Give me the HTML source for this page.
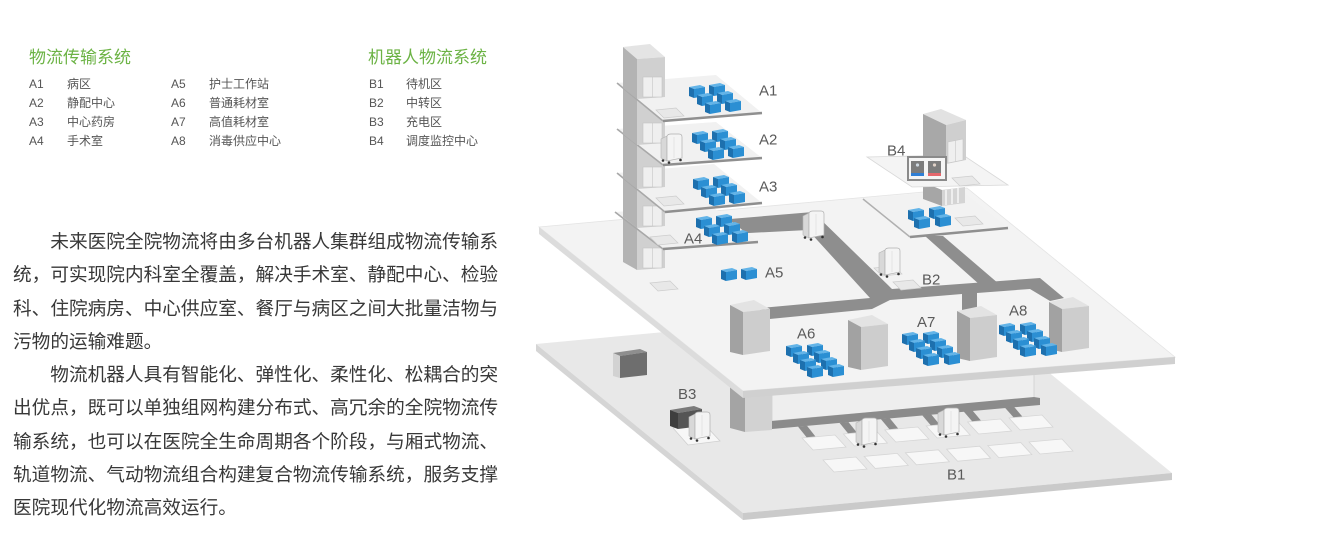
<!DOCTYPE html>
<html><head><meta charset="utf-8"><style>
html,body{margin:0;padding:0;background:#fff}
body{width:1322px;height:546px;position:relative;overflow:hidden}
svg{position:absolute;left:0;top:0}
.t{position:absolute;white-space:nowrap;font-family:"Liberation Sans","Noto Sans CJK SC",sans-serif}
.ttl{font-size:17px;line-height:20px;color:#6cb345}
.lg{font-size:12px;line-height:19px;color:#555}
.p{position:absolute;left:13px;top:225px;font-family:"Liberation Sans","Noto Sans CJK SC",sans-serif;font-size:18.67px;line-height:33.3px;color:#383838;white-space:nowrap}
.p div{height:33.3px}
.ind{padding-left:37.3px}
</style></head><body>
<svg width="1322" height="546" viewBox="0 0 1322 546" xmlns="http://www.w3.org/2000/svg">
<defs>
<g id="cb">
<polygon points="0,2 11,0 16,2 5,4" fill="#63b4e8"/>
<polygon points="0,2 5,4 5,13 0,11" fill="#1d70ae"/>
<polygon points="5,4 16,2 16,11 5,13" fill="#2b8fd3"/>
</g>
<g id="rob">
<polygon points="1,5 7,2 7,27 1,24" fill="#d8d8d8" stroke="#b5b5b5" stroke-width="0.6"/>
<path d="M7,2 Q8,0 11,0 L19,0 Q22,0 22,3 L22,24 L7,27 Z" fill="#f4f4f4" stroke="#b0b0b0" stroke-width="0.7"/>
<line x1="14" y1="3" x2="14" y2="24" stroke="#dcdcdc" stroke-width="0.7"/>
<circle cx="3" cy="26.5" r="1.3" fill="#333"/>
<circle cx="9" cy="28.5" r="1.3" fill="#333"/>
<circle cx="20.5" cy="26" r="1.3" fill="#333"/>
</g>
<g id="bld">
<polygon points="0,5 24,0 40,9 13,12" fill="#e3e3e3"/>
<polygon points="0,5 13,12 13,55 0,52" fill="#a2a2a2"/>
<polygon points="13,12 40,9 40,51 13,55" fill="#cdcdcd"/>
</g>
<g id="door">
<rect x="0" y="0" width="19" height="20" fill="#efefef" stroke="#c4c4c4" stroke-width="0.6"/>
<line x1="9.5" y1="0" x2="9.5" y2="20" stroke="#c4c4c4" stroke-width="0.6"/>
</g>
</defs>

<!-- Lower platform -->
<polygon points="536,344 965,304 1172,473 743,513" fill="#e8e8e8"/>
<polygon points="536,344 743,513 743,520 536,351" fill="#d5d5d5"/>
<polygon points="743,513 1172,473 1172,480 743,520" fill="#cacaca"/>

<!-- dark box -->
<polygon points="613,353 640,349 647,352 620,356" fill="#8e8e8e"/>
<polygon points="613,353 620,356 620,378 613,376" fill="#d2d2d2"/>
<polygon points="620,356 647,352 647,375 620,378" fill="#6e6e6e"/>

<!-- B3 charger -->
<polygon points="673,428 705,425 720,441 688,445" fill="#f7f7f7" stroke="#cfcfcf" stroke-width="0.8"/>
<polygon points="670,410 694,406 702,409 678,413" fill="#7a7a7a"/>
<polygon points="670,410 678,413 678,429 670,426" fill="#3e3e3e"/>
<polygon points="678,413 702,409 702,426 678,429" fill="#555"/>
<use href="#rob" x="688" y="412"/>

<!-- under-structure -->
<polygon points="772,394 1034,374 1034,398 772,421" fill="#eeeeee" stroke="#d0d0d0" stroke-width="0.8"/>
<polygon points="772,421 1034,397 1040,398 1040,405 772,429" fill="#8b8b8b"/>
<g fill="#8b8b8b">
<polygon points="798,426.6 807,425.8 817,438.5 808,439"/>
<polygon points="839.4,422.8 848.4,422 858.4,434.5 849.4,435"/>
<polygon points="880.8,419 889.8,418.2 899.8,430.5 890.8,431"/>
<polygon points="922.2,415.3 931.2,414.4 941.2,426.5 932.2,427"/>
<polygon points="963.6,411.4 972.6,410.6 982.6,422.5 973.6,423"/>
<polygon points="1005,407.7 1014,406.8 1024,418.5 1015,419"/>
</g>
<polygon points="730,378 745,384 745,432 730,428" fill="#a4a4a4"/>
<polygon points="745,384 772,381 772,430 745,432" fill="#d2d2d2"/>

<!-- tiles -->
<g fill="#f7f7f7" stroke="#d6d6d6" stroke-width="0.8">
<polygon points="802,438 835,435 846,447 813,450"/>
<polygon points="843.4,434 876.4,431 887.4,443 854.4,446"/>
<polygon points="884.8,430 917.8,427 928.8,439 895.8,442"/>
<polygon points="926.2,426 959.2,423 970.2,435 937.2,438"/>
<polygon points="967.6,422 1000.6,419 1011.6,431 978.6,434"/>
<polygon points="1009,418 1042,415 1053,427 1020,430"/>
<polygon points="823,460 856,457 867,469 834,472"/>
<polygon points="864.2,456.4 897.2,453.4 908.2,465.4 875.2,468.4"/>
<polygon points="905.4,452.8 938.4,449.8 949.4,461.8 916.4,464.8"/>
<polygon points="946.6,449.2 979.6,446.2 990.6,458.2 957.6,461.2"/>
<polygon points="987.8,445.6 1020.8,442.6 1031.8,454.6 998.8,457.6"/>
<polygon points="1029,442 1062,439 1073,451 1040,454"/>
</g>
<use href="#rob" x="855" y="418"/>
<use href="#rob" x="937" y="408"/>

<!-- Upper platform -->
<polygon points="539,227 967,188 1175,357 743,391" fill="#f3f3f3" stroke="#e4e4e4" stroke-width="0.8"/>
<polygon points="539,227 743,391 743,398 539,234" fill="#dcdcdc"/>
<polygon points="743,391 1175,357 1175,364 743,398" fill="#d0d0d0"/>

<!-- roads -->
<polygon points="730,219 813,212 892,289 1040,278 1064,298 1050,301 1030,289 977,293 977,312 962,312 962,294 890,300 872,309 760,320 760,308 870,298 808,230 730,234" fill="#8e8e8e"/>
<polygon points="925,236 943,236 999,284 980,285" fill="#8e8e8e"/>

<!-- pads on UP -->
<g fill="#e8e8e8" stroke="#cdcdcd" stroke-width="0.7">
<polygon points="650,283 670,281 678,289 658,291"/>
<polygon points="893,282 913,280 921,288 901,290"/>
<polygon points="874,268 894,266 902,274 882,276"/>
</g>

<!-- buildings -->
<use href="#bld" x="730" y="300"/>
<use href="#bld" x="848" y="315"/>
<use href="#bld" x="957" y="306"/>
<use href="#bld" x="1049" y="297"/>

<!-- clusters -->
<use href="#cb" x="721" y="268"/><use href="#cb" x="741" y="267"/>
<g>
<use href="#cb" x="807" y="343"/><use href="#cb" x="786" y="344"/>
<use href="#cb" x="814" y="350"/><use href="#cb" x="793" y="351"/>
<use href="#cb" x="821" y="357"/><use href="#cb" x="800" y="358"/>
<use href="#cb" x="828" y="364"/><use href="#cb" x="807" y="365"/>
</g>
<g>
<use href="#cb" x="923" y="331"/><use href="#cb" x="902" y="332"/>
<use href="#cb" x="930" y="338"/><use href="#cb" x="909" y="339"/>
<use href="#cb" x="937" y="345"/><use href="#cb" x="916" y="346"/>
<use href="#cb" x="944" y="352"/><use href="#cb" x="923" y="353"/>
</g>
<g>
<use href="#cb" x="1020" y="322"/><use href="#cb" x="999" y="323"/>
<use href="#cb" x="1027" y="329"/><use href="#cb" x="1006" y="330"/>
<use href="#cb" x="1034" y="336"/><use href="#cb" x="1013" y="337"/>
<use href="#cb" x="1041" y="343"/><use href="#cb" x="1020" y="344"/>
</g>
<use href="#rob" x="802" y="211"/>
<use href="#rob" x="878" y="248"/>

<!-- B4 structure -->
<polygon points="863,199 961,190 1008,228 910,237" fill="#f2f2f2"/>
<line x1="863" y1="199" x2="910" y2="237" stroke="#b0b0b0" stroke-width="1.5"/>
<line x1="910" y1="237" x2="1008" y2="228" stroke="#8f8f8f" stroke-width="2.4"/>
<polygon points="955,218 975,216 983,224 963,226" fill="#e8e8e8" stroke="#cdcdcd" stroke-width="0.7"/>
<polygon points="923,182 942,190 942,206 923,199" fill="#a6a6a6"/>
<polygon points="942,190 965,187 965,203 942,206" fill="#d4d4d4"/>
<g stroke="#f4f4f4" stroke-width="1.6"><line x1="946" y1="190" x2="946" y2="205"/><line x1="952" y1="189" x2="952" y2="204"/><line x1="958" y1="188" x2="958" y2="203"/></g>
<use href="#cb" x="929" y="206"/><use href="#cb" x="908" y="208"/>
<use href="#cb" x="935" y="214"/><use href="#cb" x="914" y="216"/>
<polygon points="867,157 963,155 1008,185 912,187" fill="#f4f4f4" stroke="#d8d8d8" stroke-width="0.8"/>
<polygon points="952,178 972,176 980,184 960,186" fill="#e8e8e8" stroke="#cdcdcd" stroke-width="0.7"/>
<polygon points="923,114 941,109 966,120 946,125" fill="#e2e2e2"/>
<polygon points="923,114 946,125 946,164 923,160" fill="#a8a8a8"/>
<polygon points="946,125 966,120 966,160 946,164" fill="#cfcfcf"/>
<polygon points="948,142 963,139 963,160 948,163" fill="#efefef" stroke="#c6c6c6" stroke-width="0.6"/>
<line x1="955.5" y1="140.5" x2="955.5" y2="161.5" stroke="#c6c6c6" stroke-width="0.6"/>
<rect x="908" y="157" width="38" height="23" fill="#f5f5f5" stroke="#8a8a8a" stroke-width="2"/>
<rect x="911" y="161" width="13" height="15" fill="#7c7c7c"/>
<rect x="928" y="161" width="13" height="15" fill="#7c7c7c"/>
<rect x="911" y="173" width="13" height="3" fill="#2f7fd6"/>
<rect x="928" y="173" width="13" height="3" fill="#e5676c"/>
<circle cx="917.5" cy="165" r="1.6" fill="#cfd8e0"/>
<circle cx="934.5" cy="165" r="1.6" fill="#e0d2c8"/>

<!-- Tower + floors A4..A1 -->
<!-- S4 -->
<polygon points="623,217 637,228 637,270 623,262" fill="#b3b3b3"/>
<polygon points="637,228 665,226 665,268 637,270" fill="#d0d0d0"/>
<use href="#door" x="643" y="248"/>
<!-- slab A4 -->
<polygon points="615,212 710,205 758,242 663,249" fill="#f1f1f1"/>
<line x1="615" y1="212" x2="663" y2="249" stroke="#a8a8a8" stroke-width="1.6"/>
<line x1="663" y1="249" x2="758" y2="242" stroke="#8f8f8f" stroke-width="2.4"/>
<polygon points="650,237 670,235 678,243 658,245" fill="#e8e8e8" stroke="#cdcdcd" stroke-width="0.7"/>
<use href="#cb" x="716" y="214"/><use href="#cb" x="696" y="216"/>
<use href="#cb" x="724" y="222"/><use href="#cb" x="704" y="224"/>
<use href="#cb" x="732" y="230"/><use href="#cb" x="712" y="232"/>
<!-- S3 -->
<polygon points="623,178 637,189 637,228 623,217" fill="#b3b3b3"/>
<polygon points="637,189 665,187 665,226 637,228" fill="#d0d0d0"/>
<use href="#door" x="643" y="206"/>
<!-- slab A3 -->
<polygon points="617,173 714,164 762,203 665,212" fill="#f1f1f1"/>
<line x1="617" y1="173" x2="665" y2="212" stroke="#a8a8a8" stroke-width="1.6"/>
<line x1="665" y1="212" x2="762" y2="203" stroke="#8f8f8f" stroke-width="2.4"/>
<polygon points="656,198 676,196 684,204 664,206" fill="#e8e8e8" stroke="#cdcdcd" stroke-width="0.7"/>
<use href="#cb" x="713" y="175"/><use href="#cb" x="693" y="177"/>
<use href="#cb" x="721" y="183"/><use href="#cb" x="701" y="185"/>
<use href="#cb" x="729" y="191"/><use href="#cb" x="709" y="193"/>
<!-- S2 -->
<polygon points="623,134 637,145 637,189 623,178" fill="#b3b3b3"/>
<polygon points="637,145 665,143 665,187 637,189" fill="#d0d0d0"/>
<use href="#door" x="643" y="167"/>
<!-- slab A2 -->
<polygon points="617,129 716,122 762,158 663,165" fill="#f1f1f1"/>
<line x1="617" y1="129" x2="663" y2="165" stroke="#a8a8a8" stroke-width="1.6"/>
<line x1="663" y1="165" x2="762" y2="158" stroke="#8f8f8f" stroke-width="2.4"/>
<use href="#cb" x="712" y="129"/><use href="#cb" x="692" y="131"/>
<use href="#cb" x="720" y="137"/><use href="#cb" x="700" y="139"/>
<use href="#cb" x="728" y="145"/><use href="#cb" x="708" y="147"/>
<!-- S1 -->
<polygon points="623,88 637,99 637,145 623,134" fill="#b3b3b3"/>
<polygon points="637,99 665,97 665,143 637,145" fill="#d0d0d0"/>
<use href="#door" x="643" y="123"/>
<use href="#rob" x="660" y="134"/>
<!-- slab A1 -->
<polygon points="617,83 716,75 762,113 663,121" fill="#f1f1f1"/>
<line x1="617" y1="83" x2="663" y2="121" stroke="#a8a8a8" stroke-width="1.6"/>
<line x1="663" y1="121" x2="762" y2="113" stroke="#8f8f8f" stroke-width="2.4"/>
<polygon points="656,110 676,108 684,116 664,118" fill="#e8e8e8" stroke="#cdcdcd" stroke-width="0.7"/>
<use href="#cb" x="709" y="83"/><use href="#cb" x="689" y="85"/>
<use href="#cb" x="717" y="91"/><use href="#cb" x="697" y="93"/>
<use href="#cb" x="725" y="99"/><use href="#cb" x="705" y="101"/>
<!-- S0 -->
<polygon points="623,47 650,44 665,57 637,59" fill="#e4e4e4"/>
<polygon points="623,47 637,59 637,99 623,88" fill="#b3b3b3"/>
<polygon points="637,59 665,57 665,97 637,99" fill="#d0d0d0"/>
<use href="#door" x="643" y="77"/>

<!-- labels -->
<g font-family="Liberation Sans, sans-serif" font-size="15" fill="#5a5a5a">
<text x="759" y="95.5">A1</text>
<text x="759" y="144.5">A2</text>
<text x="759" y="191.5">A3</text>
<text x="684" y="243.5">A4</text>
<text x="765" y="277.5">A5</text>
<text x="797" y="338.5">A6</text>
<text x="917" y="327">A7</text>
<text x="1009" y="315.5">A8</text>
<text x="887" y="155.5">B4</text>
<text x="922" y="284.5">B2</text>
<text x="678" y="399">B3</text>
<text x="947" y="479.5">B1</text>
</g>
</svg>

<div class="t ttl" style="left:29px;top:48px">物流传输系统</div>
<div class="t ttl" style="left:368px;top:48px">机器人物流系统</div>

<div class="t lg" style="left:29px;top:74.5px">A1</div><div class="t lg" style="left:67px;top:74.5px">病区</div>
<div class="t lg" style="left:29px;top:93.5px">A2</div><div class="t lg" style="left:67px;top:93.5px">静配中心</div>
<div class="t lg" style="left:29px;top:112.5px">A3</div><div class="t lg" style="left:67px;top:112.5px">中心药房</div>
<div class="t lg" style="left:29px;top:131.5px">A4</div><div class="t lg" style="left:67px;top:131.5px">手术室</div>

<div class="t lg" style="left:171px;top:74.5px">A5</div><div class="t lg" style="left:209px;top:74.5px">护士工作站</div>
<div class="t lg" style="left:171px;top:93.5px">A6</div><div class="t lg" style="left:209px;top:93.5px">普通耗材室</div>
<div class="t lg" style="left:171px;top:112.5px">A7</div><div class="t lg" style="left:209px;top:112.5px">高值耗材室</div>
<div class="t lg" style="left:171px;top:131.5px">A8</div><div class="t lg" style="left:209px;top:131.5px">消毒供应中心</div>

<div class="t lg" style="left:369px;top:74.5px">B1</div><div class="t lg" style="left:406px;top:74.5px">待机区</div>
<div class="t lg" style="left:369px;top:93.5px">B2</div><div class="t lg" style="left:406px;top:93.5px">中转区</div>
<div class="t lg" style="left:369px;top:112.5px">B3</div><div class="t lg" style="left:406px;top:112.5px">充电区</div>
<div class="t lg" style="left:369px;top:131.5px">B4</div><div class="t lg" style="left:406px;top:131.5px">调度监控中心</div>

<div class="p">
<div class="ind">未来医院全院物流将由多台机器人集群组成物流传输系</div>
<div>统，可实现院内科室全覆盖，解决手术室、静配中心、检验</div>
<div>科、住院病房、中心供应室、餐厅与病区之间大批量洁物与</div>
<div>污物的运输难题。</div>
<div class="ind">物流机器人具有智能化、弹性化、柔性化、松耦合的突</div>
<div>出优点，既可以单独组网构建分布式、高冗余的全院物流传</div>
<div>输系统，也可以在医院全生命周期各个阶段，与厢式物流、</div>
<div>轨道物流、气动物流组合构建复合物流传输系统，服务支撑</div>
<div>医院现代化物流高效运行。</div>
</div>
</body></html>
